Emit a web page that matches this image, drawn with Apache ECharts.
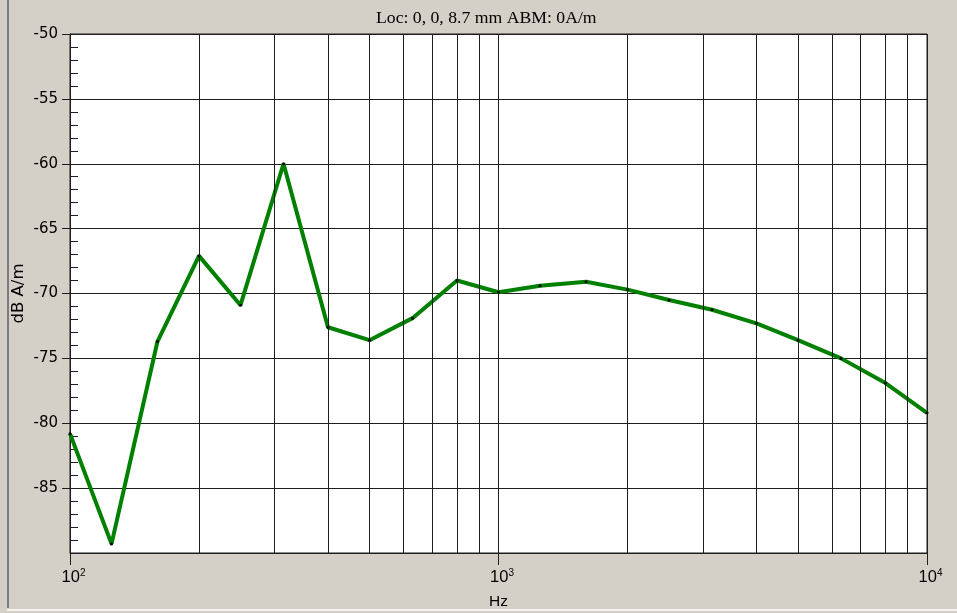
<!DOCTYPE html>
<html>
<head>
<meta charset="utf-8">
<script src="https://cdn.jsdelivr.net/npm/echarts@6/dist/echarts.min.js"></script>
<style>
html,body{margin:0;padding:0;background:#d4d0c8;}
#chart{width:957px;height:613px;}
</style>
</head>
<body>
<div id="chart"></div>
<script>
const titleText = 'Loc: 0, 0, 8.7 mm ABM: 0A/m';
const xName = 'Hz';
const yName = 'dB A/m';
const frequencies = [100, 125, 160, 200, 250, 315, 400, 500, 630, 800, 1000, 1250, 1600, 2000, 2500, 3150, 4000, 5000, 6300, 8000, 10000];
const levels = [-80.8, -89.3, -73.7, -67.1, -70.9, -60.0, -72.6, -73.6, -71.9, -69.0, -69.9, -69.4, -69.1, -69.7, -70.5, -71.25, -72.3, -73.6, -75.0, -76.9, -79.2];
const xMinorGrid = [200, 300, 400, 500, 600, 700, 800, 900, 2000, 3000, 4000, 5000, 6000, 7000, 8000, 9000];
const xTickBases = {100: '10', 1000: '10', 10000: '10'};
const xTickExps = {100: '2', 1000: '3', 10000: '4'};
const yTickValues = [-85, -80, -75, -70, -65, -60, -55, -50];
const yTickLabels = ['-85', '-80', '-75', '-70', '-65', '-60', '-55', '-50'];

const chart = echarts.init(document.getElementById('chart'), null, {renderer: 'canvas'});
const gridColor = '#1e1e1e';
const sans = 'Liberation Sans, Arial, sans-serif';
const wide = 'DejaVu Sans, Verdana, sans-serif';

chart.setOption({
  animation: false,
  backgroundColor: '#d4d0c8',
  title: {
    text: titleText,
    left: 371,
    top: 4,
    textStyle: {fontFamily: 'Liberation Serif, Times New Roman, serif', fontSize: 17.7, fontWeight: 'normal', color: '#000'}
  },
  graphic: [
    {type: 'rect', shape: {x: 7, y: 0, width: 2, height: 608}, style: {fill: '#7c7c7c'}, silent: true},
    {type: 'rect', shape: {x: 7, y: 609, width: 950, height: 2}, style: {fill: '#f4f2ee'}, silent: true}
  ],
  grid: {
    left: 70, right: 30, top: 34, bottom: 60,
    show: true, backgroundColor: '#ffffff', borderColor: gridColor, borderWidth: 1,
    containLabel: false, outerBoundsMode: 'none'
  },
  xAxis: {
    type: 'log', logBase: 10, min: 100, max: 10000,
    name: xName, nameLocation: 'middle', nameGap: 41, nameMoveOverlap: false,
    nameTextStyle: {fontFamily: sans, fontSize: 15.5, color: '#000'},
    axisLine: {show: true, lineStyle: {color: gridColor, width: 1}},
    axisTick: {show: true, length: 12, lineStyle: {color: gridColor}},
    splitLine: {show: true, lineStyle: {color: gridColor, width: 1}},
    axisLabel: {
      margin: 15, color: '#000',
      formatter: function (v) {
        const b = xTickBases[v];
        return b ? '{b|' + b + '}{s|' + xTickExps[v] + '}' : '';
      },
      rich: {
        b: {fontFamily: sans, fontSize: 16.5, color: '#000', verticalAlign: 'bottom', lineHeight: 18, padding: [0, 0, 0, 7]},
        s: {fontFamily: sans, fontSize: 10, color: '#000', verticalAlign: 'top', lineHeight: 18, padding: [0, 0, 8, 0]}
      }
    }
  },
  yAxis: [
    {
      type: 'value', min: -90, max: -50, interval: 5,
      name: yName, nameLocation: 'middle', nameGap: 43, nameMoveOverlap: false,
      nameTextStyle: {fontFamily: wide, fontSize: 16.5, color: '#000'},
      axisLine: {show: true, lineStyle: {color: gridColor, width: 1}},
      axisTick: {show: true, length: 8, lineStyle: {color: gridColor}, customValues: yTickValues},
      splitLine: {show: true, lineStyle: {color: gridColor, width: 1}},
      axisLabel: {
        margin: 12, fontFamily: wide, fontSize: 15, color: '#000',
        formatter: function (v) {
          const s = String(v);
          return yTickLabels.indexOf(s) >= 0 ? s : '';
        }
      }
    },
    {
      type: 'value', min: -90, max: -50, interval: 5, position: 'left',
      axisLine: {show: false},
      axisTick: {show: false, inside: true},
      minorTick: {show: true, splitNumber: 5, length: 8, lineStyle: {color: gridColor, width: 1}},
      splitLine: {show: false},
      axisLabel: {show: false}
    }
  ],
  series: [
    {
      type: 'line', name: 'grid', data: [], z: 1, silent: true,
      markLine: {
        silent: true, symbol: ['none', 'none'], animation: false,
        label: {show: false},
        lineStyle: {color: gridColor, width: 1, type: 'solid'},
        emphasis: {disabled: true},
        data: xMinorGrid.map(function (f) { return {xAxis: f}; })
      }
    },
    {
      type: 'line', name: 'level', z: 3, yAxisIndex: 0,
      data: frequencies.map(function (f, i) { return [f, levels[i]]; }),
      lineStyle: {color: '#008000', width: 4},
      symbol: 'circle', symbolSize: 3, showSymbol: true, showAllSymbol: true,
      itemStyle: {color: '#000', borderWidth: 0},
      emphasis: {disabled: true}
    }
  ]
});
</script>
</body>
</html>
